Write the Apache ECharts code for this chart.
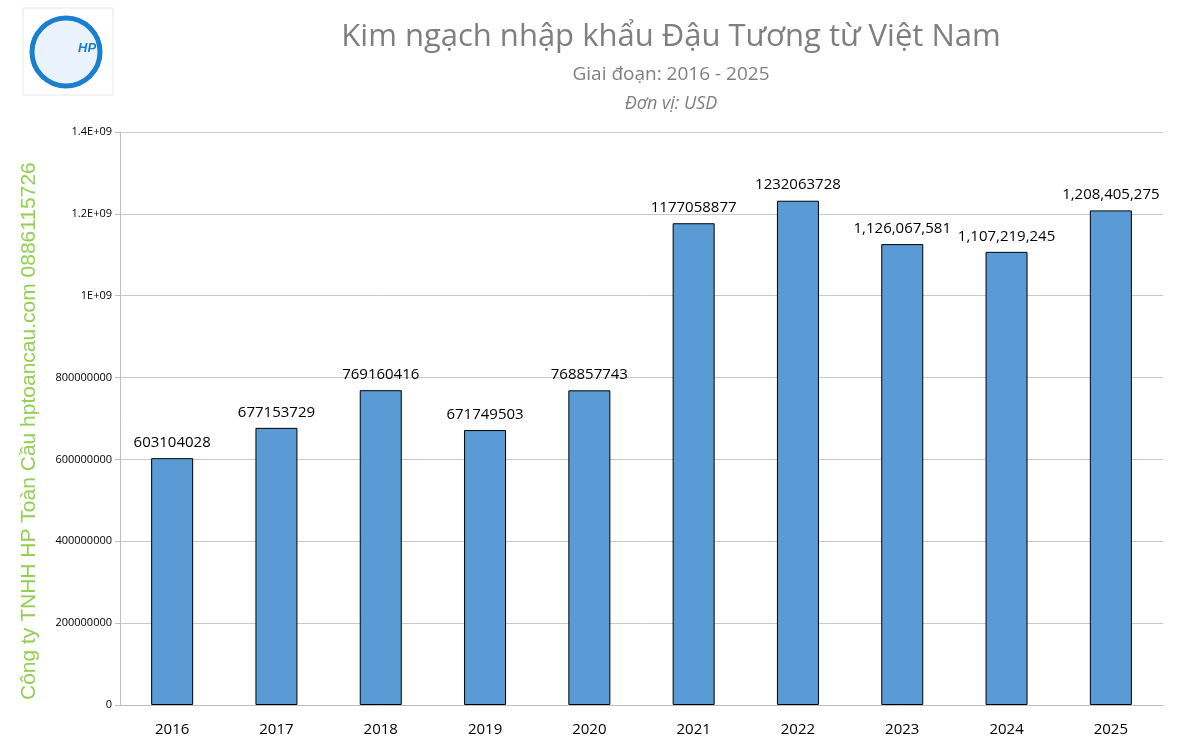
<!DOCTYPE html>
<html><head><meta charset="utf-8">
<script src="https://cdn.jsdelivr.net/npm/echarts@6/dist/echarts.min.js"></script>
<style>html,body{margin:0;background:#fff}#c{width:1186px;height:750px}</style>
</head><body><div id="c"></div>
<script>
const years = ['2016','2017','2018','2019','2020','2021','2022','2023','2024','2025'];
const values = [603104028, 677153729, 769160416, 671749503, 768857743, 1177058877, 1232063728, 1126067581, 1107219245, 1208405275];
const labels = ['603104028','677153729','769160416','671749503','768857743','1177058877','1232063728','1,126,067,581','1,107,219,245','1,208,405,275'];
const yTickLabels = {0:'0',200000000:'200000000',400000000:'400000000',600000000:'600000000',800000000:'800000000',1000000000:'1E+09',1200000000:'1.2E+09',1400000000:'1.4E+09'};

const chart = echarts.init(document.getElementById('c'));
chart.setOption({
    animation: false,
    title: [
        { text: 'Kim ngạch nhập khẩu Đậu Tương từ Việt Nam', left: 666, top: 17, textAlign: 'center',
          textStyle: { fontFamily: 'Open Sans', fontSize: 31, fontWeight: 'normal', color: '#7f7f7f' } },
        { text: 'Giai đoạn: 2016 - 2025', left: 666, top: 60, textAlign: 'center',
          textStyle: { fontFamily: 'Open Sans', fontSize: 19, fontWeight: 'normal', color: '#7f7f7f' } },
        { text: 'Đơn vị: USD', left: 666, top: 90, textAlign: 'center',
          textStyle: { fontFamily: 'Open Sans', fontSize: 18, fontStyle: 'italic', fontWeight: 'normal', color: '#7f7f7f' } }
    ],
    graphic: [
        { type: 'rect', shape: { x: 23, y: 8, width: 90, height: 87 }, style: { fill: '#fff', stroke: '#e6e6e6' } },
        { type: 'circle', shape: { cx: 66, cy: 52, r: 34 }, style: { fill: '#eaf3fb', stroke: '#1a7fcf', lineWidth: 5 } },
        { type: 'text', left: 78, top: 42, style: { text: 'HP', fontSize: 13, fontStyle: 'italic', fill: '#1a7fcf', fontWeight: 'bold' } },
        { type: 'text', x: 40, y: 700, rotation: Math.PI / 2,
          style: { text: 'Công ty TNHH HP Toàn Cầu hptoancau.com 0886115726', fontFamily: 'Arial', fontSize: 21, fill: '#92d050', textAlign: 'left', textVerticalAlign: 'bottom' } }
    ],
    grid: { left: 120, right: 23, top: 132, bottom: 45 },
    xAxis: {
        type: 'category', data: years,
        axisLine: { lineStyle: { color: '#bfbfbf' } },
        axisTick: { show: false },
        axisLabel: { color: '#000', fontSize: 15, margin: 17, fontFamily: 'Open Sans' }
    },
    yAxis: {
        type: 'value', min: 0, max: 1400000000, interval: 200000000,
        axisLine: { show: true, lineStyle: { color: '#bfbfbf' } },
        axisTick: { show: true, length: 5, lineStyle: { color: '#bfbfbf' } },
        splitLine: { lineStyle: { color: '#c8c8c8' } },
        axisLabel: { color: '#000', fontSize: 11, fontFamily: 'Open Sans', formatter: v => yTickLabels[v] }
    },
    series: [{
        type: 'bar', data: values, barWidth: 42,
        itemStyle: { color: '#5b9bd5', borderColor: '#000', borderWidth: 1 },
        label: { show: true, position: 'top', distance: 8, color: '#000', fontSize: 15, fontFamily: 'Open Sans',
                  formatter: p => labels[p.dataIndex] }
    }]
});
</script></body></html>
